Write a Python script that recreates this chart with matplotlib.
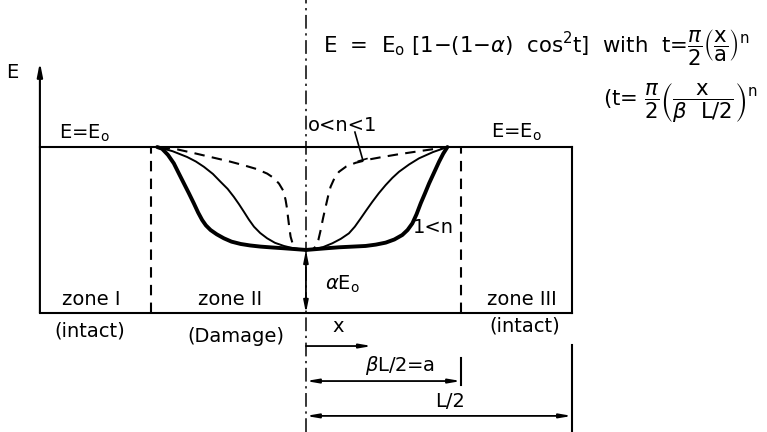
import numpy as np
import matplotlib
matplotlib.use("Agg")
import matplotlib.pyplot as plt

plt.rcParams["font.family"] = ["DejaVu Sans"]
plt.rcParams["mathtext.fontset"] = "dejavusans"

# Stiffness profiles E/E0 against x/a (a = beta L/2), sketched for three exponents
alpha = 0.38          # residual stiffness ratio at the centre
beta = 0.583          # damaged fraction of the half length

# right half (x > 0)
s_r_low = [0.0, 0.045, 0.063, 0.08, 0.095, 0.11, 0.127, 0.143, 0.159, 0.185, 0.213,
           0.26, 0.32, 0.40, 0.492, 0.60, 0.708, 0.81, 0.912]
E_r_low = [0.38, 0.385, 0.40, 0.44, 0.50, 0.57, 0.64, 0.705, 0.761, 0.815, 0.851,
           0.883, 0.905, 0.924, 0.94, 0.957, 0.972, 0.986, 1.0]
s_r_one = [0.0, 0.05, 0.11, 0.17, 0.225, 0.277, 0.315, 0.353, 0.39, 0.428, 0.47,
           0.514, 0.557, 0.60, 0.665, 0.729, 0.82, 0.912]
E_r_one = [0.38, 0.384, 0.397, 0.42, 0.447, 0.48, 0.52, 0.57, 0.62, 0.67, 0.722,
           0.771, 0.814, 0.851, 0.895, 0.932, 0.97, 1.0]
s_r_high = [0.0, 0.052, 0.13, 0.213, 0.30, 0.385, 0.45, 0.514, 0.57, 0.621, 0.655,
            0.686, 0.713, 0.74, 0.767, 0.794, 0.826, 0.858, 0.885, 0.912]
E_r_high = [0.38, 0.384, 0.39, 0.396, 0.40, 0.404, 0.412, 0.424, 0.443, 0.47, 0.50,
            0.54, 0.595, 0.661, 0.72, 0.781, 0.846, 0.911, 0.96, 1.0]

# left half (x < 0), distances from the centre line
s_l_low = [0.0, 0.045, 0.062, 0.077, 0.088, 0.099, 0.108, 0.116, 0.123, 0.131, 0.145,
           0.174, 0.21, 0.25, 0.32, 0.40, 0.50, 0.615, 0.72, 0.83, 0.959]
E_l_low = [0.38, 0.38, 0.385, 0.40, 0.425, 0.46, 0.52, 0.58, 0.635, 0.68, 0.735,
           0.78, 0.815, 0.84, 0.868, 0.89, 0.915, 0.94, 0.963, 0.986, 1.0]
s_l_one = [0.0, 0.034, 0.09, 0.142, 0.20, 0.25, 0.295, 0.335, 0.368, 0.40, 0.432,
           0.465, 0.505, 0.55, 0.60, 0.658, 0.71, 0.766, 0.86, 0.959]
E_l_one = [0.38, 0.384, 0.392, 0.404, 0.423, 0.45, 0.482, 0.52, 0.563, 0.61, 0.656,
           0.70, 0.748, 0.79, 0.838, 0.881, 0.913, 0.94, 0.975, 1.0]
s_l_high = [0.0, 0.07, 0.142, 0.22, 0.292, 0.36, 0.421, 0.48, 0.529, 0.575, 0.615,
            0.645, 0.669, 0.695, 0.723, 0.755, 0.787, 0.82, 0.852, 0.89, 0.928, 0.959]
E_l_high = [0.38, 0.385, 0.39, 0.395, 0.40, 0.407, 0.416, 0.43, 0.45, 0.474, 0.50,
            0.528, 0.56, 0.605, 0.661, 0.722, 0.781, 0.842, 0.902, 0.953, 0.99, 1.0]

zone_labels = ["zone I", "zone II", "zone III"]
state_labels = ["(intact)", "(Damage)", "(intact)"]

fig = plt.figure(figsize=(7.67, 4.32), dpi=100)
ax = fig.add_axes([0, 0, 1, 1])
# x in units of L/2 (centre line at 0), y in units of E0
ax.set_xlim(-1.150, 1.733)
ax.set_ylim(-0.717, 1.886)
ax.axis("off")

k = "black"
lw = 1.5
fs = 14
fs_eq = 15.3

# specimen box and E axis
ax.plot([-1, 1], [1, 1], color=k, lw=lw)
ax.plot([-1, 1], [0, 0], color=k, lw=lw)
ax.plot([1, 1], [0, 1], color=k, lw=lw)
ax.annotate("", xy=(-1, 1.51), xytext=(-1, 0),
            arrowprops=dict(arrowstyle="-|>,head_length=0.8,head_width=0.16",
                            color=k, lw=lw, shrinkA=0, shrinkB=0))
ax.text(-1.105, 1.452, "E", fontsize=fs, ha="center", va="center")

# zone boundaries
for xb in (-beta, beta):
    ax.plot([xb, xb], [0, 1], color=k, lw=lw, ls=(0, (5, 3.5)))

# centre line
ax.plot([0, 0], [-0.717, 1.886], color=k, lw=1.1, ls=(0, (9, 3, 1.5, 3)))

# stiffness profiles
styles = {
    "low": dict(lw=1.5, ls=(0, (5, 3.5))),
    "one": dict(lw=1.4),
    "high": dict(lw=2.8),
}
right = {"low": (s_r_low, E_r_low), "one": (s_r_one, E_r_one), "high": (s_r_high, E_r_high)}
left = {"low": (s_l_low, E_l_low), "one": (s_l_one, E_l_one), "high": (s_l_high, E_l_high)}
for key, kw in styles.items():
    for side, data in ((1, right), (-1, left)):
        s, E = data[key]
        ax.plot(side * np.array(s) * beta, E, color=k, solid_capstyle="round",
                solid_joinstyle="round", **kw)

# alpha E0 arrow
ax.annotate("", xy=(0, alpha), xytext=(0, 0),
            arrowprops=dict(arrowstyle="<|-|>,head_length=0.7,head_width=0.14",
                            color=k, lw=1.3, shrinkA=0, shrinkB=0))
ax.text(0.072, 0.17, r"$\alpha$E$_\mathregular{o}$", fontsize=fs, ha="left", va="center")

# E = E0 labels
ax.text(-0.831, 1.081, r"E=E$_\mathregular{o}$", fontsize=fs, ha="center", va="center")
ax.text(0.79, 1.09, r"E=E$_\mathregular{o}$", fontsize=fs, ha="center", va="center")

# curve labels with leader
ax.text(0.008, 1.13, "o<n<1", fontsize=fs, ha="left", va="center")
ax.plot([0.184, 0.214], [1.09, 0.92], color=k, lw=1.2)
ax.plot([0.197, 0.229], [0.915, 0.93], color=k, lw=1.2)
ax.text(0.48, 0.515, "1<n", fontsize=fs, ha="center", va="center")

# zone labels
for xz, lab in zip([-0.806, -0.286, 0.812], zone_labels):
    ax.text(xz, 0.08, lab, fontsize=fs, ha="center", va="center")
for (xz, yz), lab in zip([(-0.812, -0.108), (-0.263, -0.139), (0.823, -0.078)], state_labels):
    ax.text(xz, yz, lab, fontsize=fs, ha="center", va="center")

# dimension lines
ax.annotate("", xy=(0.248, -0.199), xytext=(0, -0.199),
            arrowprops=dict(arrowstyle="-|>,head_length=0.7,head_width=0.12",
                            color=k, lw=1.3, shrinkA=0, shrinkB=0))
ax.text(0.12, -0.084, "x", fontsize=fs, ha="center", va="center")

ax.plot([beta, beta], [-0.27, -0.434], color=k, lw=lw)
ax.annotate("", xy=(beta, -0.41), xytext=(0, -0.41),
            arrowprops=dict(arrowstyle="<|-|>,head_length=0.7,head_width=0.12",
                            color=k, lw=1.3, shrinkA=0, shrinkB=0))
ax.text(0.353, -0.319, r"$\beta$L/2=a", fontsize=fs, ha="center", va="center")

ax.plot([1, 1], [-0.193, -0.717], color=k, lw=lw)
ax.annotate("", xy=(1, -0.62), xytext=(0, -0.62),
            arrowprops=dict(arrowstyle="<|-|>,head_length=0.7,head_width=0.12",
                            color=k, lw=1.3, shrinkA=0, shrinkB=0))
ax.text(0.541, -0.536, "L/2", fontsize=fs, ha="center", va="center")

# governing formula
ax.text(0.064, 1.572,
        r"E  =  E$_\mathregular{o}$ [1$-$(1$-\alpha$)  cos$^\mathregular{2}$t]  with  "
        r"t=$\dfrac{\pi}{2}\left(\dfrac{\mathregular{x}}{\mathregular{a}}\right)^{\mathregular{n}}$",
        fontsize=fs_eq, ha="left", va="baseline")
ax.text(1.117, 1.253,
        r"(t= $\dfrac{\pi}{2}\left(\dfrac{\mathregular{x}}{\beta\ \ \mathregular{L/2}}\right)^{\mathregular{n}}$",
        fontsize=fs_eq, ha="left", va="baseline")

fig.savefig("out.png", dpi=100)
